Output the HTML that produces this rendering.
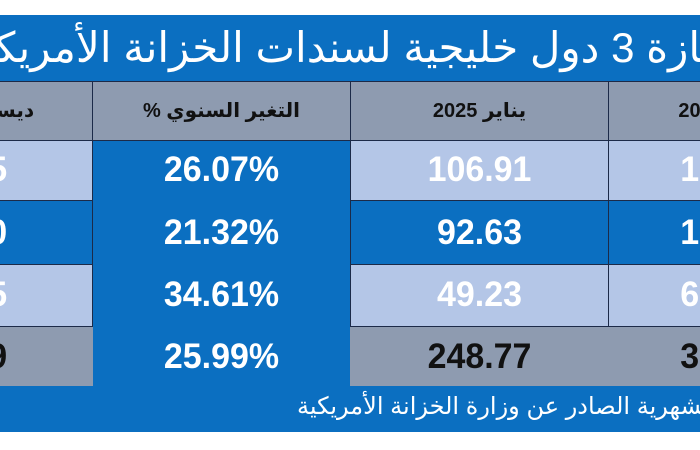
<!DOCTYPE html>
<html><head><meta charset="utf-8"><style>
*{margin:0;padding:0;box-sizing:border-box}
html,body{width:700px;height:450px;overflow:hidden}
body{background:#fff;position:relative;font-family:"Liberation Sans","Noto Sans CJK SC","DejaVu Sans",sans-serif}
.a{position:absolute}
.blue{background:#0b6fc1}
.light{background:#b4c6e7}
.gray{background:#8e9bb0}
.num{position:absolute;font-weight:bold;font-size:35px;color:#fff;white-space:nowrap;transform:scaleX(0.97);transform-origin:center;text-align:center}
.cell{position:absolute;border:1.5px solid #1c2a48}
.hd{position:absolute;font-weight:bold;font-size:20px;color:#111;white-space:nowrap;top:98px;direction:rtl;text-align:center}
#wrap{position:absolute;left:0;top:0;width:700px;height:450px;overflow:hidden}
</style></head><body><div id="wrap">
<div class="a blue" style="left:0;top:15px;width:700px;height:417px"></div>
<div class="a" style="left:-150px;width:1000px;top:17px;font-size:42px;line-height:62px;color:#fff;white-space:nowrap;direction:rtl;text-align:center">حيازة 3 دول خليجية لسندات الخزانة الأمريكية</div>

<div class="cell gray" style="left:-2px;top:81px;width:95px;height:60px"></div>
<div class="cell gray" style="left:92px;top:81px;width:259px;height:60px"></div>
<div class="cell gray" style="left:350px;top:81px;width:259px;height:60px"></div>
<div class="cell gray" style="left:608px;top:81px;width:94px;height:60px"></div>
<div class="hd" style="left:-156px;width:258px">ديسمبر 2024</div>
<div class="hd" style="left:92px;width:259px">التغير السنوي %</div>
<div class="hd" style="left:350px;width:259px">يناير 2025</div>
<div class="hd" style="left:596px;width:258px">يناير 2024</div>
<div class="cell light" style="left:-2px;top:140px;width:95px;height:61px"></div>
<div class="cell light" style="left:350px;top:140px;width:259px;height:61px"></div>
<div class="cell light" style="left:608px;top:140px;width:94px;height:61px"></div>
<div class="cell blue" style="left:-2px;top:200px;width:95px;height:65px"></div>
<div class="cell blue" style="left:350px;top:200px;width:259px;height:65px"></div>
<div class="cell blue" style="left:608px;top:200px;width:94px;height:65px"></div>
<div class="cell light" style="left:-2px;top:264px;width:95px;height:63px"></div>
<div class="cell light" style="left:350px;top:264px;width:259px;height:63px"></div>
<div class="cell light" style="left:608px;top:264px;width:94px;height:63px"></div>
<div class="a gray" style="left:0;top:327px;width:93px;height:59px"></div>
<div class="a gray" style="left:350px;top:327px;width:350px;height:59px"></div>

<div class="num" style="left:92px;width:259px;top:150px">26.07%</div>
<div class="num" style="left:92px;width:259px;top:213px">21.32%</div>
<div class="num" style="left:92px;width:259px;top:275px">34.61%</div>
<div class="num" style="left:92px;width:259px;top:337px">25.99%</div>

<div class="num" style="left:350px;width:259px;top:150px">106.91</div>
<div class="num" style="left:350px;width:259px;top:213px">92.63</div>
<div class="num" style="left:350px;width:259px;top:275px">49.23</div>
<div class="num" style="left:350px;width:259px;top:337px;color:#111">248.77</div>

<div class="num" style="left:-12px;top:150px">5</div>
<div class="num" style="left:-12px;top:213px">0</div>
<div class="num" style="left:-12px;top:275px">5</div>
<div class="num" style="left:-12px;top:337px;color:#111">9</div>

<div class="num" style="left:680px;top:150px">1</div>
<div class="num" style="left:680px;top:213px">1</div>
<div class="num" style="left:680px;top:275px">6</div>
<div class="num" style="left:680px;top:337px;color:#111">3</div>

<div class="a" style="left:297px;top:392px;font-size:24px;color:#fff;white-space:nowrap;direction:rtl">المصدر: النشرة الشهرية الصادر عن وزارة الخزانة الأمريكية</div>
</div></body></html>
